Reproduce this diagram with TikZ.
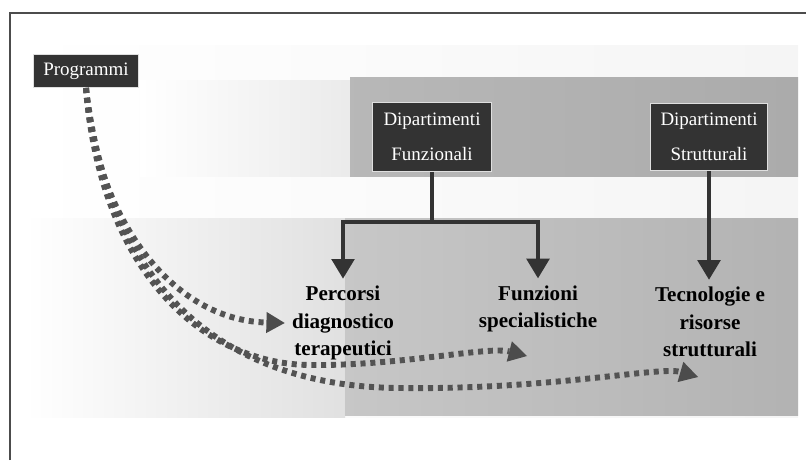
\documentclass[tikz,border=0pt]{standalone}
\usepackage{fontspec}
\setmainfont{Liberation Serif}
\usetikzlibrary{arrows.meta}

\begin{document}
\begin{tikzpicture}[x=0.025cm, y=-0.025cm,
      every node/.style={align=center},
      blocco/.style={fill=black!80, draw=white!75!gray, line width=0.6pt, text=white,
        font=\fontsize{13.5}{25}\selectfont, inner sep=2pt},
      etichetta/.style={font=\fontsize{15}{19.5}\selectfont\bfseries, inner sep=5pt},
      freccia/.style={draw=black!80, line width=2.8pt, -{Triangle[length=14pt, width=16pt]}},
      linea/.style={draw=black!80, line width=2.8pt},
      tratteggio/.style={draw=gray!65!black, line width=4.2pt, dash pattern=on 3.6pt off 3.4pt,
        -{Triangle[length=13pt, width=15pt, line width=0pt, color=gray!60!black]}}
    ]
    \useasboundingbox (0,0) rectangle (806,460);
    % fondo
    \fill[left color=white, right color=gray!8] (25,45) rectangle (798,417);
    \fill[left color=white, right color=gray!16] (140,80) rectangle (350,176);
    \fill[left color=white, right color=gray!24] (25,218) rectangle (345,417);
    \fill[left color=gray!56, right color=gray!66] (350,77) rectangle (798,176);
    \fill[left color=gray!44, right color=gray!60] (345,218) rectangle (798,415);
    \draw[gray!60!black, line width=0.9pt] (10,460) -- (10,13) -- (806,13);

    \node[blocco, minimum width=75pt, minimum height=23.5pt] (prog) at (86,71) {Programmi};
    \node[blocco, minimum width=84.5pt, minimum height=49pt] (depfun) at (432,137) {Dipartimenti\\Funzionali};
    \node[blocco, minimum width=83pt, minimum height=48pt] (depstr) at (709,137) {Dipartimenti\\Strutturali};

    \node[etichetta] (percorsi) at (343,323) {Percorsi\\diagnostico\\terapeutici};
    \node[etichetta] (funzioni) at (538,309) {Funzioni\\specialistiche};
    \node[etichetta] (tecno) at (710,322) {Tecnologie e\\risorse\\strutturali};

    \coordinate (snodo) at (432,222);
    \coordinate (fine2) at (527,356);
    \coordinate (fine3) at (698,377);

    \draw[linea] (depfun.south) -- (snodo);
    \draw[freccia] (snodo) -| (percorsi.north);
    \draw[freccia] (snodo) -| (funzioni.north);
    \draw[freccia] (depstr.south) -- (depstr.south |- tecno.north);

    \draw[tratteggio] (prog.south) .. controls (95,215) and (170,320) .. (percorsi.west);
    \draw[tratteggio] (prog.south) .. controls (100,268) and (200,364) .. (310,365)
      .. controls (400,366) and (488,346) .. (fine2);
    \draw[tratteggio] (prog.south) .. controls (110,295) and (230,387) .. (400,388)
      .. controls (550,390) and (660,366) .. (fine3);
  \end{tikzpicture}
\end{document}
